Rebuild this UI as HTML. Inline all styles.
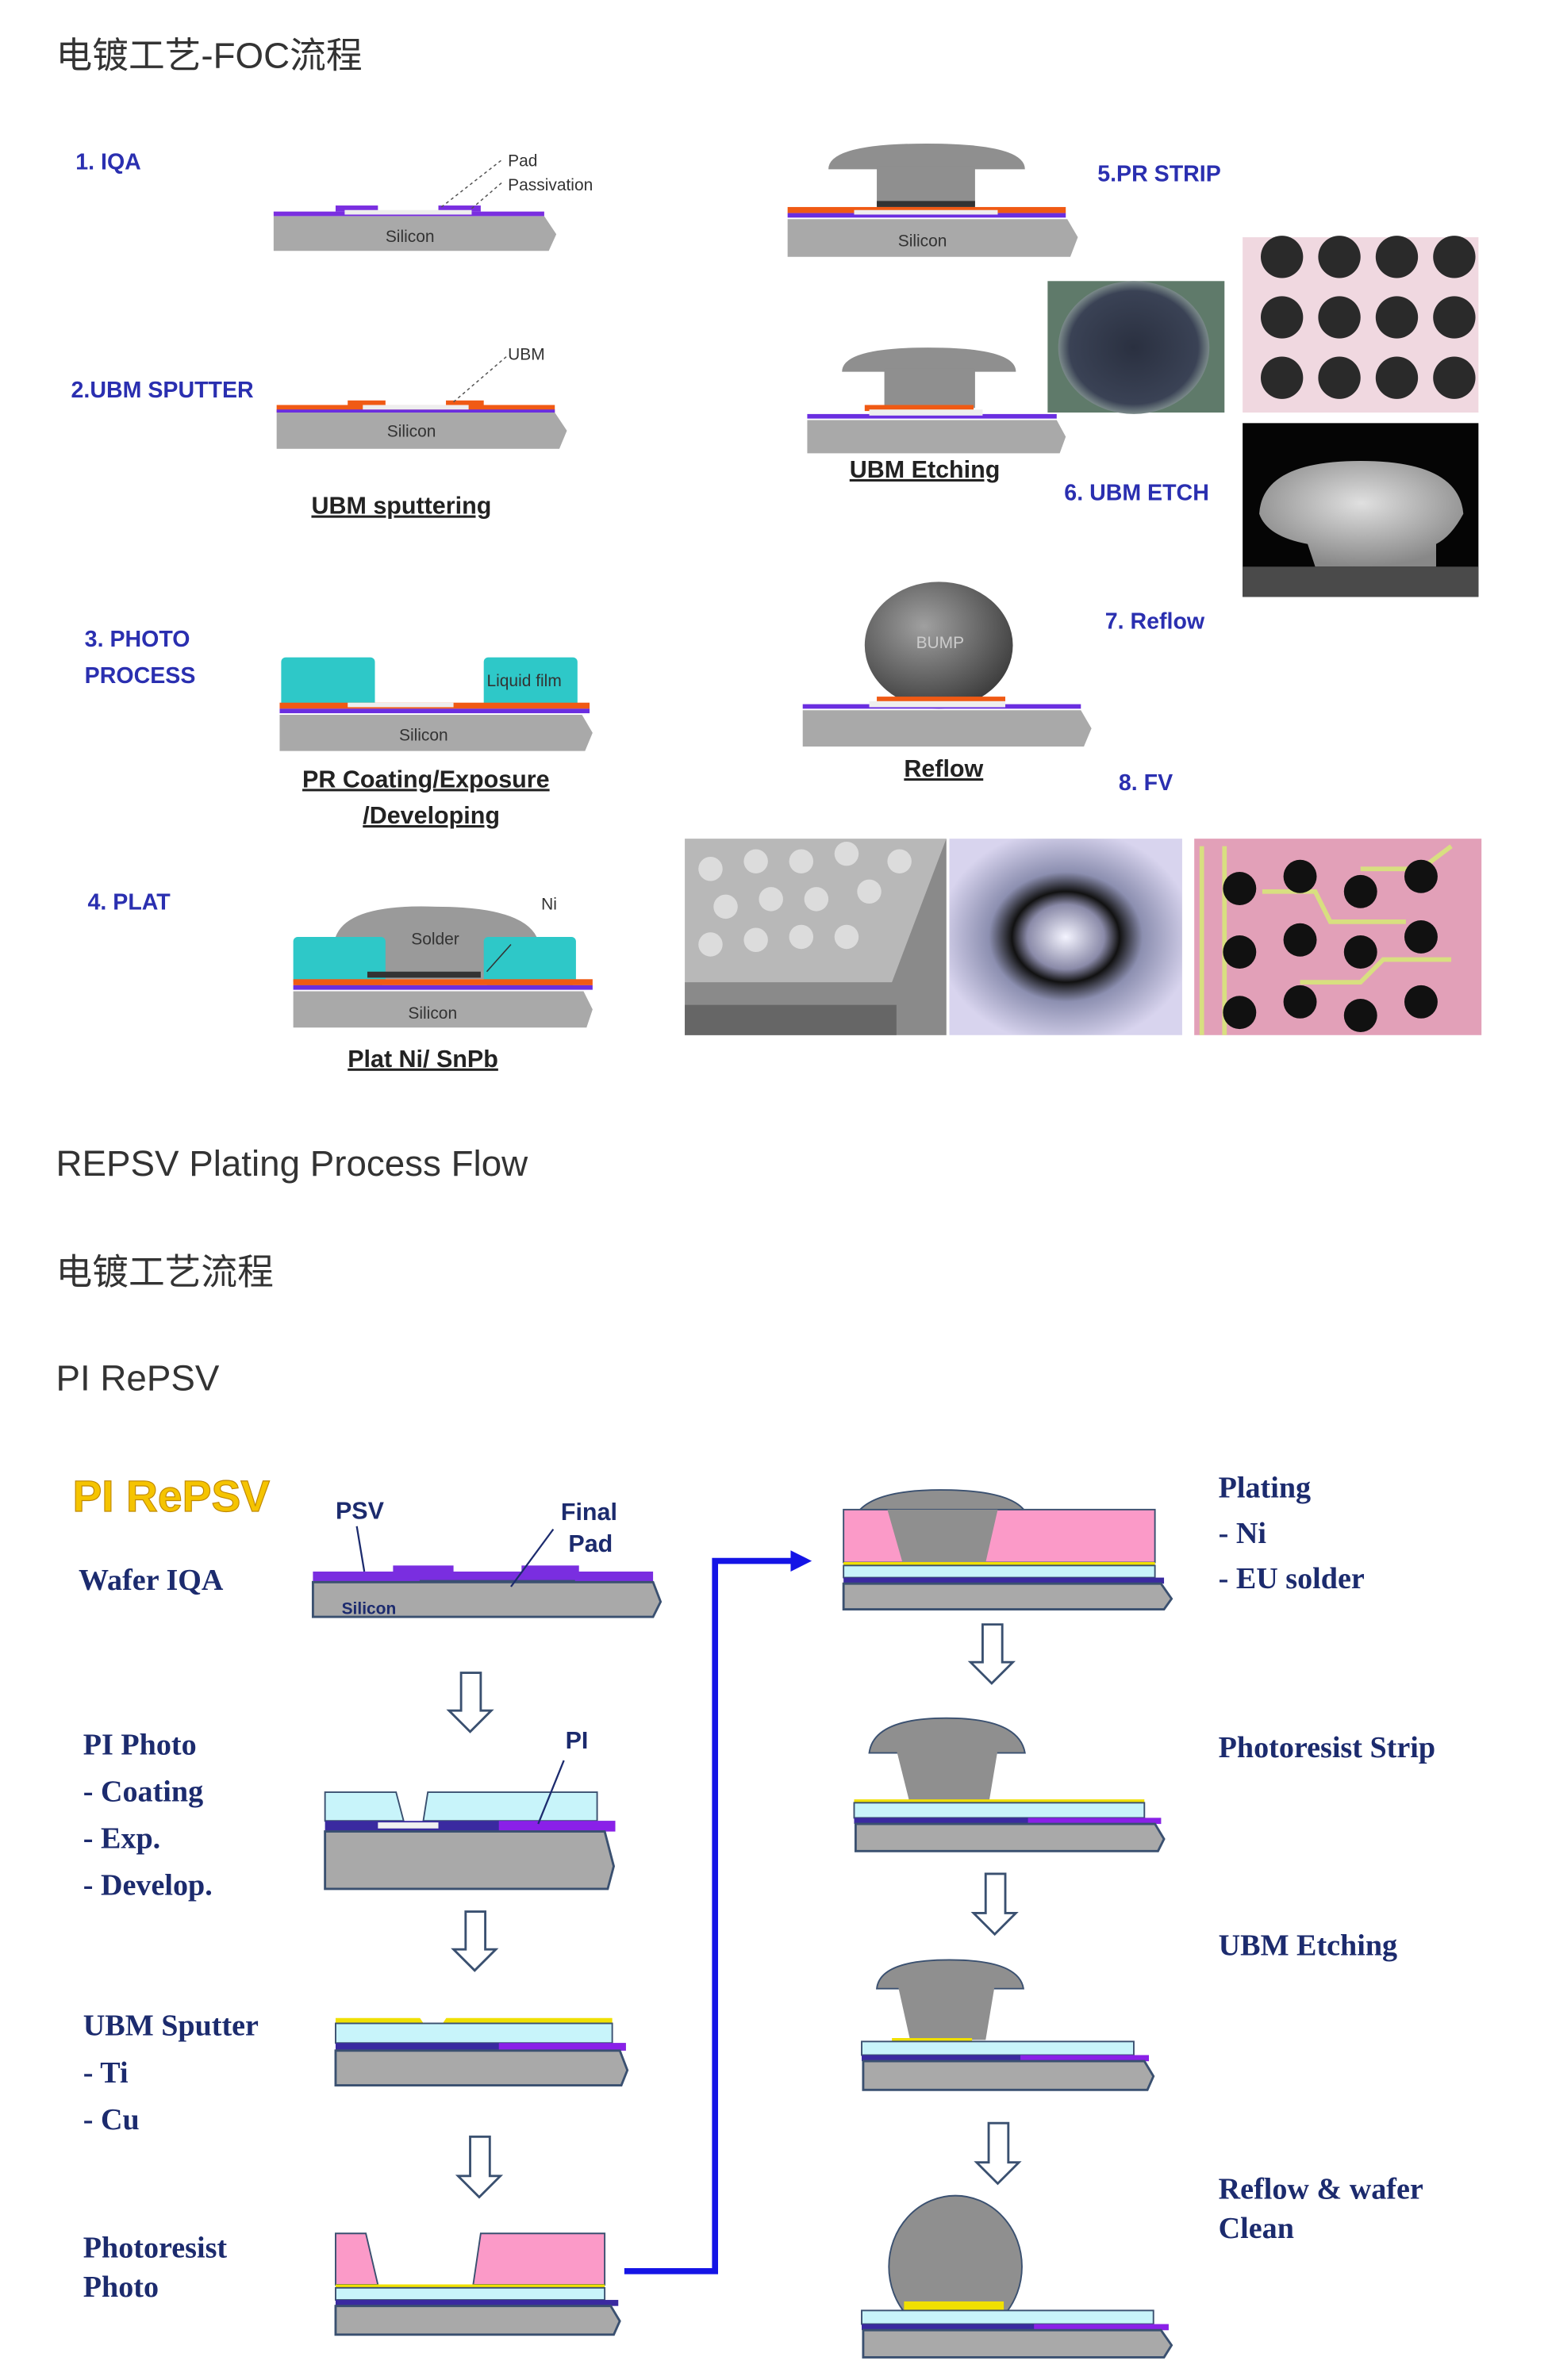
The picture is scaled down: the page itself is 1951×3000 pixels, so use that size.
<!DOCTYPE html>
<html><head><meta charset="utf-8"><style>
html,body{margin:0;padding:0;background:#fff;}
svg{display:block;}
.h{font-family:"Liberation Sans","Noto Sans CJK SC",sans-serif;fill:#333;font-size:24px;}
.b{font-family:"Liberation Sans",sans-serif;font-weight:bold;fill:#2a2fb0;font-size:15px;}
.u{font-family:"Liberation Sans",sans-serif;font-weight:bold;fill:#222;font-size:16px;text-decoration:underline;}
.s{font-family:"Liberation Serif",serif;font-weight:bold;fill:#1c2b6e;font-size:20px;}
.a{font-family:"Liberation Sans",sans-serif;font-weight:bold;fill:#1c2b6e;font-size:16px;}
.t{font-family:"Liberation Sans",sans-serif;fill:#333;font-size:11px;}
.si{fill:#a9a9a9;}
.sb{fill:#a9a9a9;stroke:#3a5070;stroke-width:1.5;}
.arr{fill:#fff;stroke:#3a5070;stroke-width:1.5;}
</style></head><body>
<svg width="1951" height="3000" viewBox="0 0 1024 1575" preserveAspectRatio="none" xmlns="http://www.w3.org/2000/svg">
<defs>
<radialGradient id="bump" cx="0.4" cy="0.35" r="0.7"><stop offset="0" stop-color="#a0a0a0"/><stop offset="1" stop-color="#3a3a3a"/></radialGradient>
<radialGradient id="glow" cx="0.5" cy="0.5" r="0.55"><stop offset="0" stop-color="#f4f4ff"/><stop offset="0.3" stop-color="#8a8aa8"/><stop offset="0.42" stop-color="#111"/><stop offset="0.6" stop-color="#8c8fb0"/><stop offset="1" stop-color="#d8d4ee"/></radialGradient>
<radialGradient id="dk" cx="0.5" cy="0.5" r="0.5"><stop offset="0" stop-color="#2a3040"/><stop offset="0.85" stop-color="#3a4255"/><stop offset="1" stop-color="#7b8a8a"/></radialGradient>
<radialGradient id="sem" cx="0.5" cy="0.4" r="0.6"><stop offset="0" stop-color="#e0e0e0"/><stop offset="1" stop-color="#888"/></radialGradient>
</defs>

<text class="h" x="37" y="45">电镀工艺-FOC流程</text>

<!-- 1 IQA -->
<text class="b" x="50" y="112">1. IQA</text>
<polygon class="si" points="181,143 360,143 368,155 363,166 181,166"/>
<rect x="181" y="140" width="179" height="3" fill="#7a2ee0"/>
<rect x="222" y="136" width="28" height="4" fill="#7a2ee0"/>
<rect x="290" y="136" width="28" height="4" fill="#7a2ee0"/>
<rect x="228" y="139" width="84" height="3" fill="#eee"/>
<text class="t" x="255" y="160">Silicon</text>
<line x1="292" y1="137" x2="333" y2="105" stroke="#555" stroke-dasharray="2,2" stroke-width="0.8"/>
<line x1="312" y1="138" x2="333" y2="120" stroke="#555" stroke-dasharray="2,2" stroke-width="0.8"/>
<text class="t" x="336" y="110">Pad</text><text class="t" x="336" y="126">Passivation</text>

<!-- 2 UBM -->
<text class="b" x="47" y="263">2.UBM SPUTTER</text>
<polygon class="si" points="183,273 367,273 375,285 370,297 183,297"/>
<rect x="183" y="268" width="184" height="5" fill="#f05a14"/>
<rect x="183" y="271" width="184" height="2" fill="#6a2ee0"/>
<rect x="230" y="265" width="25" height="4" fill="#f05a14"/>
<rect x="295" y="265" width="25" height="4" fill="#f05a14"/>
<rect x="240" y="268" width="70" height="3" fill="#eee"/>
<text class="t" x="256" y="289">Silicon</text>
<line x1="300" y1="266" x2="335" y2="236" stroke="#555" stroke-dasharray="2,2" stroke-width="0.8"/>
<text class="t" x="336" y="238">UBM</text>
<text class="u" x="206" y="340">UBM sputtering</text>

<!-- 3 PHOTO -->
<text class="b" x="56" y="428">3. PHOTO</text>
<text class="b" x="56" y="452">PROCESS</text>
<rect x="186" y="435" width="62" height="33" rx="3" fill="#2ec8c8"/>
<rect x="320" y="435" width="62" height="33" rx="3" fill="#2ec8c8"/>
<text class="t" x="322" y="454" font-size="10">Liquid film</text>
<rect x="185" y="465" width="205" height="4" fill="#f05a14"/>
<rect x="185" y="469" width="205" height="3" fill="#6a2ee0"/>
<rect x="230" y="465" width="70" height="3" fill="#eee"/>
<polygon class="si" points="185,473 385,473 392,485 387,497 185,497"/>
<text class="t" x="264" y="490">Silicon</text>
<text class="u" x="200" y="521">PR Coating/Exposure</text>
<text class="u" x="240" y="545">/Developing</text>

<!-- 4 PLAT -->
<text class="b" x="58" y="602">4. PLAT</text>
<path d="M222,620 Q230,598 288,600 Q345,600 355,620 Z" fill="#9a9a9a"/>
<rect x="235" y="618" width="90" height="30" fill="#9a9a9a"/>
<rect x="194" y="620" width="61" height="32" rx="3" fill="#2ec8c8"/>
<rect x="320" y="620" width="61" height="32" rx="3" fill="#2ec8c8"/>
<rect x="243" y="643" width="75" height="4" fill="#333"/>
<rect x="194" y="648" width="198" height="4" fill="#f05a14"/>
<rect x="194" y="652" width="198" height="3" fill="#6a2ee0"/>
<polygon class="si" points="194,656 386,656 392,668 388,680 194,680"/>
<text class="t" x="272" y="625" font-size="12">Solder</text>
<text class="t" x="270" y="674">Silicon</text>
<text class="t" x="358" y="602">Ni</text>
<line x1="322" y1="643" x2="338" y2="625" stroke="#333" stroke-width="0.8"/>
<text class="u" x="230" y="706">Plat Ni/ SnPb</text>

<!-- 5 PR STRIP -->
<text class="b" x="726" y="120">5.PR STRIP</text>
<path d="M548,112 Q548,95 613,95 Q678,95 678,112 Z" fill="#8f8f8f"/>
<rect x="580" y="110" width="65" height="26" fill="#8f8f8f"/>
<rect x="580" y="133" width="65" height="4" fill="#333"/>
<rect x="521" y="137" width="184" height="4" fill="#f05a14"/>
<rect x="521" y="141" width="184" height="3" fill="#6a2ee0"/>
<rect x="565" y="139" width="95" height="3" fill="#eee"/>
<polygon class="si" points="521,145 706,145 713,157 708,170 521,170"/>
<text class="t" x="594" y="163">Silicon</text>

<!-- UBM Etching top -->
<path d="M557,246 Q557,230 614,230 Q672,230 672,246 Z" fill="#8f8f8f"/>
<rect x="585" y="244" width="60" height="26" fill="#8f8f8f"/>
<rect x="572" y="268" width="72" height="4" fill="#f05a14"/>
<rect x="534" y="274" width="165" height="3" fill="#6a2ee0"/>
<rect x="575" y="271" width="75" height="4" fill="#eee"/>
<polygon class="si" points="534,278 699,278 705,289 701,300 534,300"/>
<text class="u" x="562" y="316">UBM Etching</text>
<text class="b" x="704" y="331">6. UBM ETCH</text>

<!-- photos top right -->
<rect x="693" y="186" width="117" height="87" fill="#5f7a6a"/>
<ellipse cx="750" cy="230" rx="50" ry="44" fill="url(#dk)"/>
<rect x="822" y="157" width="156" height="116" fill="#f0d8e0"/>
<g fill="#2a2a2a">
<circle cx="848" cy="170" r="14"/><circle cx="886" cy="170" r="14"/><circle cx="924" cy="170" r="14"/><circle cx="962" cy="170" r="14"/>
<circle cx="848" cy="210" r="14"/><circle cx="886" cy="210" r="14"/><circle cx="924" cy="210" r="14"/><circle cx="962" cy="210" r="14"/>
<circle cx="848" cy="250" r="14"/><circle cx="886" cy="250" r="14"/><circle cx="924" cy="250" r="14"/><circle cx="962" cy="250" r="14"/>
</g>
<rect x="822" y="280" width="156" height="115" fill="#050505"/>
<path d="M833,340 Q835,305 900,305 Q965,305 968,340 Q960,355 950,360 L950,375 L870,375 L865,360 Q838,355 833,340 Z" fill="url(#sem)"/>
<rect x="822" y="375" width="156" height="20" fill="#4a4a4a"/>

<!-- 7 Reflow -->
<text class="b" x="731" y="416">7.  Reflow</text>
<ellipse cx="621" cy="427" rx="49" ry="42" fill="url(#bump)"/>
<text class="t" x="606" y="429" fill="#ccc" style="fill:#ccc">BUMP</text>
<rect x="580" y="461" width="85" height="5" fill="#f05a14"/>
<rect x="531" y="466" width="184" height="3" fill="#6a2ee0"/>
<rect x="575" y="464" width="90" height="4" fill="#eee"/>
<polygon class="si" points="531,470 715,470 722,482 717,494 531,494"/>
<text class="u" x="598" y="514">Reflow</text>
<text class="b" x="740" y="523">8. FV</text>

<!-- bottom photos -->
<rect x="453" y="555" width="173" height="130" fill="#b8b8b8"/>
<polygon points="453,650 590,650 626,555 626,685 453,685" fill="#8a8a8a"/>
<rect x="453" y="665" width="140" height="20" fill="#666"/>
<g fill="#dcdcdc">
<circle cx="470" cy="575" r="8"/><circle cx="500" cy="570" r="8"/><circle cx="530" cy="570" r="8"/><circle cx="560" cy="565" r="8"/><circle cx="595" cy="570" r="8"/>
<circle cx="480" cy="600" r="8"/><circle cx="510" cy="595" r="8"/><circle cx="540" cy="595" r="8"/><circle cx="575" cy="590" r="8"/>
<circle cx="470" cy="625" r="8"/><circle cx="500" cy="622" r="8"/><circle cx="530" cy="620" r="8"/><circle cx="560" cy="620" r="8"/>
</g>
<rect x="628" y="555" width="154" height="130" fill="url(#glow)"/>
<rect x="790" y="555" width="190" height="130" fill="#e2a0b8"/>
<g fill="none" stroke="#d8df80" stroke-width="3">
<path d="M795,560 L795,685 M810,560 L810,685 M835,590 L870,590 L880,610 L930,610 M860,650 L900,650 L915,635 L960,635 M900,575 L940,575 L960,560"/>
</g>
<g fill="#111">
<circle cx="820" cy="588" r="11"/><circle cx="860" cy="580" r="11"/><circle cx="900" cy="590" r="11"/><circle cx="940" cy="580" r="11"/>
<circle cx="820" cy="630" r="11"/><circle cx="860" cy="622" r="11"/><circle cx="900" cy="630" r="11"/><circle cx="940" cy="620" r="11"/>
<circle cx="820" cy="670" r="11"/><circle cx="860" cy="663" r="11"/><circle cx="900" cy="672" r="11"/><circle cx="940" cy="663" r="11"/>
</g>

<text class="h" x="37" y="778">REPSV Plating Process Flow</text>
<text class="h" x="37" y="850">电镀工艺流程</text>
<text class="h" x="37" y="920">PI RePSV</text>

<!-- bottom section -->
<text x="48" y="1000" font-family="Liberation Sans,sans-serif" font-weight="bold" font-size="29" fill="#f5c400" stroke="#c08800" stroke-width="0.6">PI RePSV</text>
<text class="s" x="52" y="1052">Wafer IQA</text>
<text class="a" x="222" y="1005">PSV</text>
<text class="a" x="371" y="1006">Final</text>
<text class="a" x="376" y="1027">Pad</text>
<rect x="207" y="1040" width="225" height="7" fill="#7a2ee0"/>
<rect x="260" y="1036" width="40" height="8" fill="#7a2ee0"/>
<rect x="345" y="1036" width="38" height="8" fill="#7a2ee0"/>
<rect x="278" y="1046" width="102" height="5" fill="#f0f0f0" stroke="#3a5070" stroke-width="0.8"/>
<polygon class="sb" points="207,1047 432,1047 437,1060 432,1070 207,1070"/>
<text class="t" x="226" y="1068" fill="#1c2b6e" style="fill:#1c2b6e;font-weight:bold">Silicon</text>
<line x1="236" y1="1010" x2="241" y2="1040" stroke="#1c2b6e" stroke-width="1.2"/>
<line x1="366" y1="1012" x2="338" y2="1050" stroke="#1c2b6e" stroke-width="1.2"/>

<!-- arrows -->
<g class="arr">
<polygon points="305,1107 318,1107 318,1132 325,1132 311,1146 297,1132 305,1132"/>
<polygon points="308,1265 321,1265 321,1290 328,1290 314,1304 300,1290 308,1290"/>
<polygon points="311,1414 324,1414 324,1440 331,1440 317,1454 303,1440 311,1440"/>
<polygon points="650,1075 663,1075 663,1100 670,1100 656,1114 642,1100 650,1100"/>
<polygon points="652,1240 665,1240 665,1266 672,1266 658,1280 644,1266 652,1266"/>
<polygon points="654,1405 667,1405 667,1431 674,1431 660,1445 646,1431 654,1431"/>
</g>

<text class="s" x="55" y="1161">PI Photo</text>
<text class="s" x="55" y="1192">- Coating</text>
<text class="s" x="55" y="1223">- Exp.</text>
<text class="s" x="55" y="1254">- Develop.</text>
<text class="a" x="374" y="1157">PI</text>
<polygon points="215,1186 262,1186 267,1205 215,1205" fill="#c8f4fa" stroke="#3a5070" stroke-width="1"/>
<polygon points="283,1186 395,1186 395,1205 280,1205" fill="#c8f4fa" stroke="#3a5070" stroke-width="1"/>
<rect x="215" y="1205" width="192" height="7" fill="#3a2aa0"/>
<rect x="330" y="1205" width="77" height="7" fill="#8a20e8"/>
<rect x="250" y="1206" width="40" height="4" fill="#f0f0f0"/>
<polygon class="sb" points="215,1212 400,1212 406,1235 402,1250 215,1250"/>
<line x1="373" y1="1165" x2="356" y2="1207" stroke="#1c2b6e" stroke-width="1.2"/>

<text class="s" x="55" y="1347">UBM Sputter</text>
<text class="s" x="55" y="1378">- Ti</text>
<text class="s" x="55" y="1409">- Cu</text>
<polyline points="222,1337 277,1337 283,1346 290,1346 296,1337 405,1337" fill="none" stroke="#f0e000" stroke-width="3"/>
<rect x="222" y="1339" width="183" height="13" fill="#c8f4fa" stroke="#3a5070" stroke-width="1"/>
<rect x="222" y="1352" width="192" height="5" fill="#3a2aa0"/>
<rect x="330" y="1352" width="84" height="5" fill="#8a20e8"/>
<polygon class="sb" points="222,1357 410,1357 415,1370 411,1380 222,1380"/>

<text class="s" x="55" y="1494">Photoresist</text>
<text class="s" x="55" y="1520">Photo</text>
<polygon points="222,1478 242,1478 250,1512 222,1512" fill="#fb9ac8" stroke="#3a5070" stroke-width="1"/>
<polygon points="318,1478 400,1478 400,1512 313,1512" fill="#fb9ac8" stroke="#3a5070" stroke-width="1"/>
<line x1="222" y1="1513" x2="400" y2="1513" stroke="#f0e000" stroke-width="2.5"/>
<rect x="222" y="1514" width="178" height="8" fill="#c8f4fa" stroke="#3a5070" stroke-width="1"/>
<rect x="222" y="1522" width="187" height="4" fill="#3a2aa0"/>
<polygon class="sb" points="222,1526 404,1526 410,1536 406,1545 222,1545"/>

<!-- blue connector -->
<polyline points="413,1503 473,1503 473,1033 525,1033" fill="none" stroke="#1414e6" stroke-width="4"/>
<polygon points="523,1026 537,1033 523,1040" fill="#1414e6"/>

<!-- Plating -->
<text class="s" x="806" y="991">Plating</text>
<text class="s" x="806" y="1021">- Ni</text>
<text class="s" x="806" y="1051">- EU solder</text>
<path d="M568,1000 Q580,986 622,986 Q668,986 678,1000 Z" fill="#8f8f8f" stroke="#3a5070" stroke-width="1"/>
<rect x="558" y="999" width="206" height="35" fill="#fb9ac8" stroke="#3a5070" stroke-width="1"/>
<polygon points="587,999 660,999 652,1034 597,1034" fill="#8f8f8f"/>
<line x1="558" y1="1035" x2="764" y2="1035" stroke="#f0e000" stroke-width="2.5"/>
<rect x="558" y="1036" width="206" height="8" fill="#c8f4fa" stroke="#3a5070" stroke-width="1"/>
<rect x="558" y="1044" width="212" height="4" fill="#3a2aa0"/>
<polygon class="sb" points="558,1048 768,1048 775,1058 770,1065 558,1065"/>

<!-- Photoresist Strip -->
<text class="s" x="806" y="1163">Photoresist Strip</text>
<path d="M575,1160 Q578,1137 626,1137 Q674,1137 678,1160 Z" fill="#8f8f8f" stroke="#3a5070" stroke-width="1"/>
<polygon points="593,1158 660,1158 654,1194 602,1194" fill="#8f8f8f"/>
<line x1="565" y1="1192" x2="757" y2="1192" stroke="#f0e000" stroke-width="2.5"/>
<rect x="565" y="1193" width="192" height="10" fill="#c8f4fa" stroke="#3a5070" stroke-width="1"/>
<rect x="565" y="1203" width="203" height="4" fill="#3a2aa0"/>
<rect x="680" y="1203" width="88" height="4" fill="#8a20e8"/>
<polygon class="sb" points="566,1207 764,1207 770,1217 766,1225 566,1225"/>

<!-- UBM Etching -->
<text class="s" x="806" y="1294">UBM Etching</text>
<path d="M580,1316 Q582,1297 628,1297 Q674,1297 677,1316 Z" fill="#8f8f8f" stroke="#3a5070" stroke-width="1"/>
<polygon points="594,1314 658,1314 652,1350 602,1350" fill="#8f8f8f"/>
<line x1="590" y1="1350" x2="643" y2="1350" stroke="#f0e000" stroke-width="2.5"/>
<rect x="570" y="1351" width="180" height="9" fill="#c8f4fa" stroke="#3a5070" stroke-width="1"/>
<rect x="570" y="1360" width="190" height="4" fill="#3a2aa0"/>
<rect x="675" y="1360" width="85" height="4" fill="#8a20e8"/>
<polygon class="sb" points="571,1364 757,1364 763,1374 759,1383 571,1383"/>

<!-- Reflow -->
<text class="s" x="806" y="1455">Reflow &amp; wafer</text>
<text class="s" x="806" y="1481">Clean</text>
<ellipse cx="632" cy="1500" rx="44" ry="47" fill="#8f8f8f" stroke="#3a5070" stroke-width="1"/>
<rect x="598" y="1523" width="66" height="6" fill="#f0e000"/>
<rect x="570" y="1529" width="193" height="9" fill="#c8f4fa" stroke="#3a5070" stroke-width="1"/>
<rect x="570" y="1538" width="203" height="4" fill="#3a2aa0"/>
<rect x="684" y="1538" width="89" height="4" fill="#8a20e8"/>
<polygon class="sb" points="571,1542 768,1542 775,1552 770,1560 571,1560"/>
</svg>
</body></html>
